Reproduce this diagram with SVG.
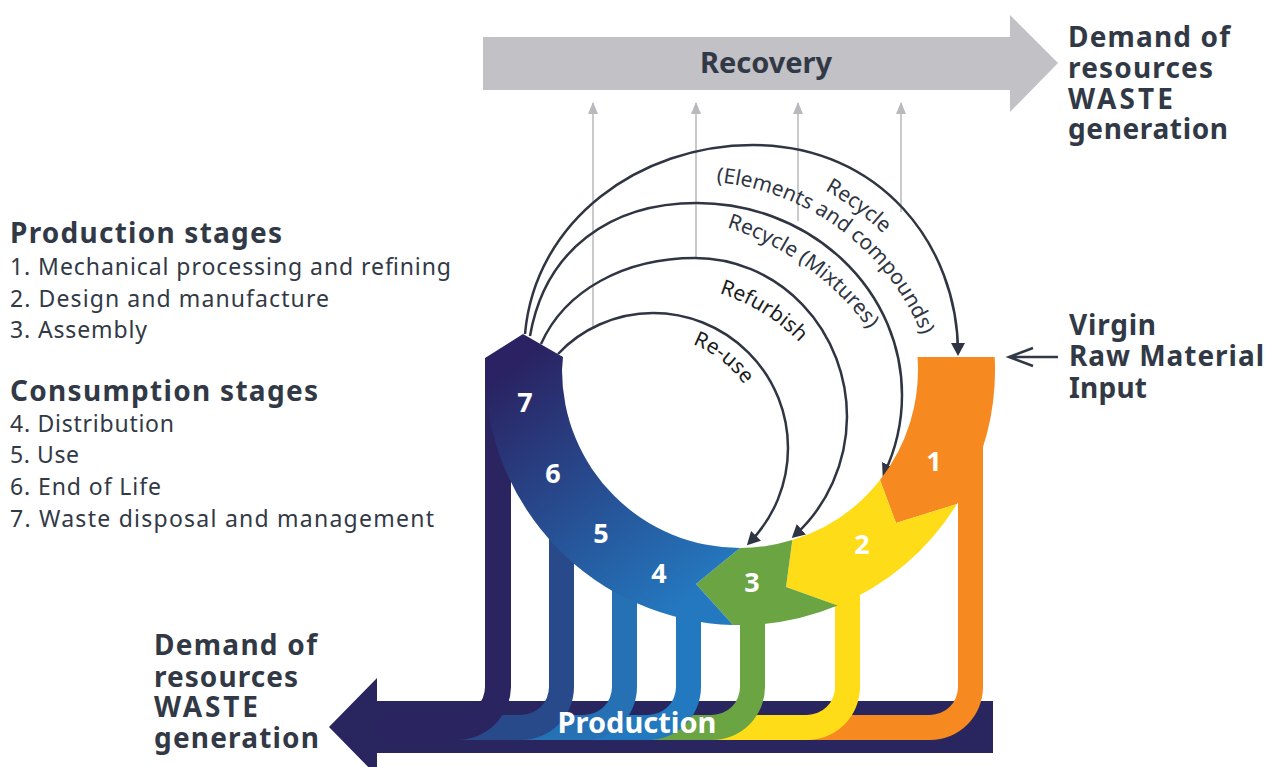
<svg xmlns="http://www.w3.org/2000/svg" width="1272" height="767" viewBox="0 0 1272 767">
<style>
.h{font-family:"Noto Sans","Open Sans",sans-serif;font-weight:700;fill:#323946}
.b{font-family:"Noto Sans","Open Sans",sans-serif;font-weight:400;fill:#323946;font-size:23px}
.num{font-family:"Noto Sans","Open Sans",sans-serif;font-weight:700;fill:#fff;font-size:27px;text-anchor:middle}
.lab{font-family:"Noto Sans","Open Sans",sans-serif;font-size:21px;fill:#2f3542}
.arc{fill:none;stroke:#2f3542;stroke-width:2.5}
.gray{fill:none;stroke:#b9b8bd;stroke-width:1.5}
</style>
<defs>
<linearGradient id="ringGrad" gradientUnits="userSpaceOnUse" x1="520" y1="360" x2="700" y2="590">
<stop offset="0" stop-color="#2a2262"/>
<stop offset="1" stop-color="#2478bf"/>
</linearGradient>
<marker id="darrow" viewBox="0 0 13 15" refX="10" refY="7.5" markerWidth="13" markerHeight="15" markerUnits="userSpaceOnUse" orient="auto">
<path d="M0,0.5 L13,7.5 L0,14.5 Z" fill="#2f3542"/>
</marker>
<marker id="garrow" viewBox="0 0 12 10" refX="11" refY="5" markerWidth="12" markerHeight="10" markerUnits="userSpaceOnUse" orient="auto">
<path d="M0,0 L12,5 L0,10 Z" fill="#b9b8bd"/>
</marker>
<path id="tReuse" d="M 629.92 339.43 A 111 111 0 0 1 763.93 444.13"/>
<path id="tRefurb" d="M 597.8 294.1 A 196 196 0 0 1 853.85 451.03"/>
<path id="tMix" d="M 576.8 223.6 A 276 276 0 0 1 920.2 470.3"/>
<path id="tRec1" d="M 630.4 163.3 A 272 272 0 0 1 964.5 412.3"/>
<path id="tRec2" d="M 636.2 187.6 A 247 247 0 0 1 939.6 413.8"/>
</defs>

<g id="recovery">
<path d="M483 37 H1010 V15 L1058 63 L1010 112 V90 H483 Z" fill="#c2c1c6"/>
<text class="h" x="766" y="73" font-size="29" text-anchor="middle">Recovery</text>
</g>

<g id="demand-top">
<text class="h" font-size="28" x="1068" y="47" textLength="162">Demand of</text>
<text class="h" font-size="28" x="1068" y="78" textLength="145">resources</text>
<text class="h" font-size="28" x="1068" y="109" textLength="105">WASTE</text>
<text class="h" font-size="28" x="1068" y="139" textLength="160">generation</text>
</g>

<g id="legend">
<text class="h" font-size="28" x="10" y="243" textLength="272">Production stages</text>
<text class="b" x="10" y="275" textLength="441">1. Mechanical processing and refining</text>
<text class="b" x="10" y="307" textLength="319">2. Design and manufacture</text>
<text class="b" x="10" y="338" textLength="137">3. Assembly</text>
<text class="h" font-size="28" x="10" y="401" textLength="308">Consumption stages</text>
<text class="b" x="10" y="432" textLength="164">4. Distribution</text>
<text class="b" x="10" y="463" textLength="69">5. Use</text>
<text class="b" x="10" y="495" textLength="151">6. End of Life</text>
<text class="b" x="10" y="527" textLength="424">7. Waste disposal and management</text>
</g>

<g id="virgin-input">
<text class="h" font-size="28" x="1069" y="335" textLength="87">Virgin</text>
<text class="h" font-size="28" x="1069" y="366" textLength="195">Raw Material</text>
<text class="h" font-size="28" x="1069" y="398" textLength="78">Input</text>
<path d="M1058 357 H1010 M1033 348 L1009 357 L1033 366" fill="none" stroke="#323946" stroke-width="2.5"/>
</g>

<g id="demand-bottom">
<text class="h" font-size="28" x="154" y="655" textLength="163">Demand of</text>
<text class="h" font-size="28" x="154" y="687" textLength="144">resources</text>
<text class="h" font-size="28" x="154" y="717" textLength="104">WASTE</text>
<text class="h" font-size="28" x="154" y="748" textLength="165">generation</text>
</g>

<g id="production-bar">
<path d="M377 701 H993 V753 H377 V776 L329 727 L377 678 Z" fill="#29255f"/>
</g>

<g id="flows">
<path id="flow1" d="M 958 440 V 687 A 28 28 0 0 1 930 715 H 440 V 740 H 930 A 53 53 0 0 0 983 687 V 440 Z" fill="#f6891f"/>
<path id="flow2" d="M 835 570 V 687 A 28 28 0 0 1 807 715 H 440 V 740 H 807 A 53 53 0 0 0 860 687 V 570 Z" fill="#fedc17"/>
<path id="flow3" d="M 740 590 V 687 A 28 28 0 0 1 712 715 H 440 V 740 H 712 A 53 53 0 0 0 765 687 V 590 Z" fill="#6aa443"/>
<path id="flow4" d="M 676 590 V 687 A 28 28 0 0 1 648 715 H 440 V 740 H 648 A 53 53 0 0 0 701 687 V 590 Z" fill="#2279bf"/>
<path id="flow5" d="M 612 560 V 687 A 28 28 0 0 1 584 715 H 440 V 740 H 584 A 53 53 0 0 0 637 687 V 560 Z" fill="#2670b4"/>
<path id="flow6" d="M 549 500 V 687 A 28 28 0 0 1 521 715 H 440 V 740 H 521 A 53 53 0 0 0 574 687 V 500 Z" fill="#284a8a"/>
<path id="flow7" d="M 485 365 V 687 A 28 28 0 0 1 457 715 H 378 V 740 H 457 A 54 54 0 0 0 511 687 V 365 Z" fill="#2a2560"/>
<text class="h" x="637" y="733" font-size="29" text-anchor="middle" style="fill:#fff">Production</text>
</g>

<g id="connectors">
<path class="gray" d="M593 327 V103" marker-end="url(#garrow)"/>
<path class="gray" d="M696 258 V103" marker-end="url(#garrow)"/>
<path class="gray" d="M798 221 V103" marker-end="url(#garrow)"/>
<path class="gray" d="M901 212 V103" marker-end="url(#garrow)"/>
<path class="arc" d="M 525 334 C 535 220, 640 145, 753 145 C 880 145, 958 245, 958 353" marker-end="url(#darrow)"/>
<path class="arc" d="M 530 336 C 545 250, 610 203, 697 203 A 205 192 0 0 1 902 395 A 205 192 0 0 1 884 474" marker-end="url(#darrow)"/>
<path class="arc" d="M 541 344 C 565 290, 625 258, 695 258 A 152 159 0 0 1 847 417 A 152 159 0 0 1 794 536" marker-end="url(#darrow)"/>
<path class="arc" d="M 558 354 C 580 330, 615 313, 653 313 A 135 135 0 0 1 788 448 A 135 135 0 0 1 749 543" marker-end="url(#darrow)"/>
<text class="lab"><textPath href="#tRec1" startOffset="50%" text-anchor="middle">Recycle</textPath></text>
<text class="lab"><textPath href="#tRec2" startOffset="50%" text-anchor="middle">(Elements and compounds)</textPath></text>
<text class="lab"><textPath href="#tMix" startOffset="50%" text-anchor="middle">Recycle (Mixtures)</textPath></text>
<text class="lab" style="fill:#1c1c1c"><textPath href="#tRefurb" startOffset="50%" text-anchor="middle">Refurbish</textPath></text>
<text class="lab" style="fill:#1c1c1c"><textPath href="#tReuse" startOffset="50%" text-anchor="middle">Re-use</textPath></text>
</g>

<g id="stage1">
<path d="M 917.5 357 L 994.7 357 A 255 255 0 0 1 957 504 L 896 523 L 880 480 A 178 178 0 0 0 917.5 357 Z" fill="#f6891f"/>
<text class="num" x="934" y="471">1</text>
</g>
<g id="stage2">
<path d="M 880 480 L 896 523 L 957 504 A 255 255 0 0 1 837.6 605.6 L 786 587 L 792.3 540.1 A 178 178 0 0 0 880 480 Z" fill="#fedc17"/>
<text class="num" x="862" y="554">2</text>
</g>
<g id="stage3">
<path d="M 792.3 540.1 L 786 587 L 837.6 605.6 A 255 255 0 0 1 733 625 L 696 584 L 740 548 A 178 178 0 0 0 792.3 540.1 Z" fill="#6aa443"/>
<text class="num" x="752" y="592">3</text>
</g>
<g id="stages4-7">
<path d="M 740 548 L 696 584 L 733 625 A 255 255 0 0 1 485 370 L 485 358 L 523 334 L 563 357 L 562 370 A 178 178 0 0 0 740 548 Z" fill="url(#ringGrad)"/>
<text class="num" x="659" y="583">4</text>
<text class="num" x="601" y="543">5</text>
<text class="num" x="553" y="483">6</text>
<text class="num" x="525" y="412">7</text>
</g>
</svg>
